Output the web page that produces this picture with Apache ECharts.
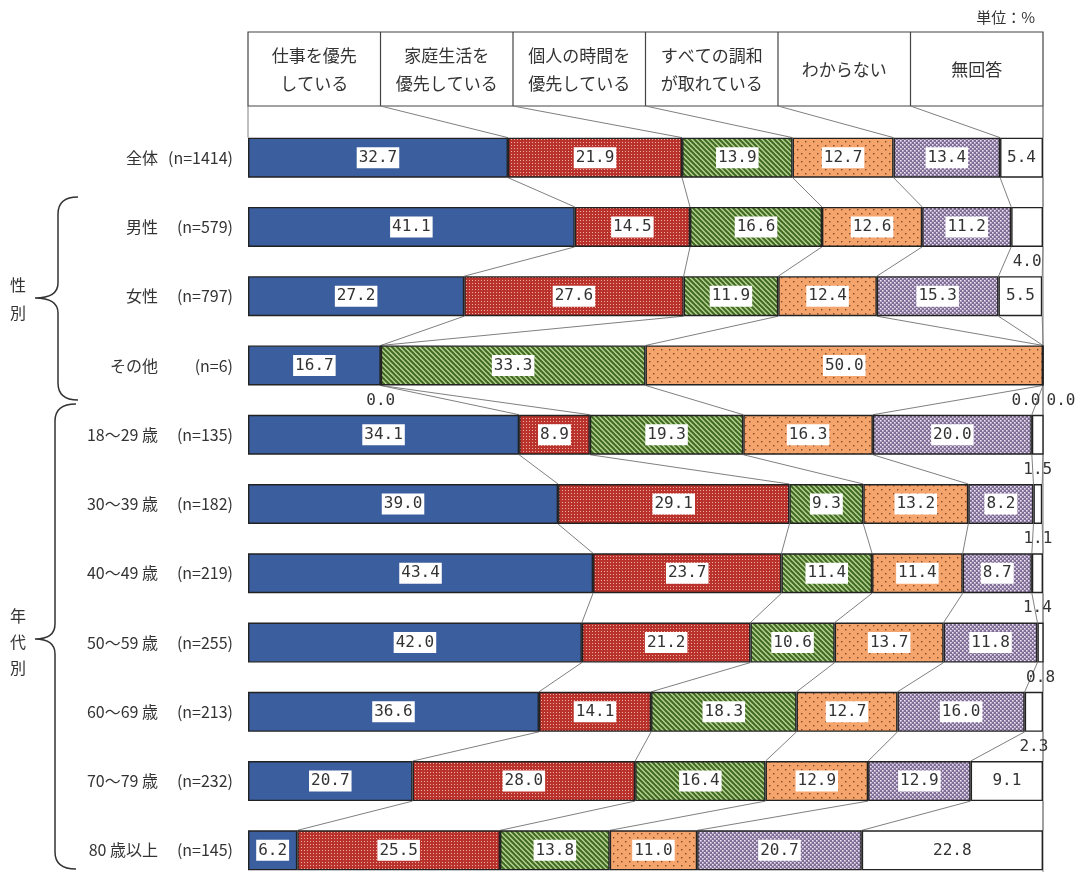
<!DOCTYPE html>
<html><head><meta charset="utf-8">
<script src="https://cdn.jsdelivr.net/npm/echarts@6/dist/echarts.min.js"></script>
<style>html,body{margin:0;padding:0;background:#fff}#c{width:1077px;height:872px}</style>
</head><body><div id="c"></div>
<script>
// ---------- data ----------
const categories = ['全体','男性','女性','その他','18～29 歳','30～39 歳','40～49 歳','50～59 歳','60～69 歳','70～79 歳','80 歳以上'];
const sampleSizes = ['(n=1414)','(n=579)','(n=797)','(n=6)','(n=135)','(n=182)','(n=219)','(n=255)','(n=213)','(n=232)','(n=145)'];
const seriesNames = ['仕事を優先している','家庭生活を優先している','個人の時間を優先している','すべての調和が取れている','わからない','無回答'];
const headerLines = [['仕事を優先','している'],['家庭生活を','優先している'],['個人の時間を','優先している'],['すべての調和','が取れている'],['わからない'],['無回答']];
const work     = [32.7, 41.1, 27.2, 16.7, 34.1, 39.0, 43.4, 42.0, 36.6, 20.7, 6.2];
const family   = [21.9, 14.5, 27.6, 0.0, 8.9, 29.1, 23.7, 21.2, 14.1, 28.0, 25.5];
const personal = [13.9, 16.6, 11.9, 33.3, 19.3, 9.3, 11.4, 10.6, 18.3, 16.4, 13.8];
const balance  = [12.7, 12.6, 12.4, 50.0, 16.3, 13.2, 11.4, 13.7, 12.7, 12.9, 11.0];
const unknown  = [13.4, 11.2, 15.3, 0.0, 20.0, 8.2, 8.7, 11.8, 16.0, 12.9, 20.7];
const noAnswer = [5.4, 4.0, 5.5, 0.0, 1.5, 1.1, 1.4, 0.8, 2.3, 9.1, 22.8];
const unitLabel = '単位：%';
const groupLabels = ['性\n別', '年\n代\n別'];

// ---------- layout / style ----------
const GRID_LEFT = 248, GRID_RIGHT = 34, GRID_TOP = 123, GRID_H = 762;
const BAR_W = 40, HEADER_TOP = 32, HEADER_BOTTOM = 106;
const CJK = '"Noto Sans CJK JP", "Noto Sans", sans-serif';
const MONO = '"DejaVu Sans Mono", "Liberation Mono", monospace';

function pat(w, h, draw) {
  const c = document.createElement('canvas'); c.width = w; c.height = h;
  draw(c.getContext('2d')); return { image: c, repeat: 'repeat' };
}
const fills = [
  '#3b5e9e',
  pat(3, 3, g => { g.fillStyle = '#b9322b'; g.fillRect(0,0,3,3); g.fillStyle = '#eab0a8'; g.fillRect(1,1,1,1); }),
  pat(5, 5, g => { g.fillStyle = '#b4cf90'; g.fillRect(0,0,5,5); g.strokeStyle = '#3f6a22'; g.lineWidth = 2;
      [-5,0,5].forEach(c => { g.beginPath(); g.moveTo(c-1,-1); g.lineTo(c+6,6); g.stroke(); }); }),
  pat(8, 8, g => { g.fillStyle = '#f5a46c'; g.fillRect(0,0,8,8); g.fillStyle = '#7a4a30';
      g.fillRect(1,1,1.4,1.4); g.fillRect(5,5,1.4,1.4); }),
  pat(4, 4, g => { g.fillStyle = '#806d96'; g.fillRect(0,0,4,4); g.fillStyle = '#ebe4f3';
      g.fillRect(0,0,1.6,1.6); g.fillRect(2,2,1.6,1.6); }),
  '#ffffff'
];
const allSeries = [work, family, personal, balance, unknown, noAnswer];
const cum = categories.map((_, i) => {
  const out = [0]; let s = 0;
  allSeries.forEach(a => { s += a[i]; out.push(s); });
  return out;
});

function smallLabel(sIdx, v) {
  let dx = 0;
  if (v === 0 && sIdx === 4) dx = -17;
  if (v === 0 && sIdx === 5) dx = 18;
  return { position: 'bottom', distance: 7, offset: [dx, 0], backgroundColor: 'transparent', padding: 0 };
}
function makeData(arr, sIdx) {
  return arr.map(v => v < 5 ? { value: v, label: smallLabel(sIdx, v) } : { value: v });
}

const barSeries = allSeries.map((arr, s) => ({
  name: seriesNames[s], type: 'bar', stack: 'total', barWidth: BAR_W, z: 3,
  data: makeData(arr, s),
  itemStyle: { color: fills[s], borderColor: '#222', borderWidth: 1.4 },
  label: {
    show: true, position: 'inside', formatter: p => p.value.toFixed(1),
    backgroundColor: '#fff', padding: [3, 2, 2, 2], color: '#333',
    fontFamily: MONO, fontSize: 16
  }
}));

function brace(xEnd, xV, xTip, yTop, yMid, yBot) {
  return 'M' + xEnd + ',' + yTop + ' Q' + xV + ',' + yTop + ' ' + xV + ',' + (yTop + 17) +
    ' L' + xV + ',' + (yMid - 15) + ' Q' + xV + ',' + yMid + ' ' + xTip + ',' + yMid +
    ' Q' + xV + ',' + yMid + ' ' + xV + ',' + (yMid + 15) +
    ' L' + xV + ',' + (yBot - 17) + ' Q' + xV + ',' + yBot + ' ' + xEnd + ',' + yBot;
}

function renderConn(params, api) {
  const i = api.value(1);
  const children = [];
  const half = BAR_W / 2;
  const x0 = api.coord([0, i])[0], x100 = api.coord([100, i])[0];
  const yc = api.coord([0, i])[1];
  const yTop = yc - half;
  const line = (x1, y1, x2, y2) => children.push({ type: 'line', shape: { x1, y1, x2, y2 },
      style: { stroke: '#808080', lineWidth: 1 } });
  if (i === 0) {
    const colW = (x100 - x0) / 6;
    children.push({ type: 'rect', shape: { x: x0, y: HEADER_TOP, width: x100 - x0, height: HEADER_BOTTOM - HEADER_TOP },
      style: { fill: '#fff', stroke: '#444', lineWidth: 1.2 } });
    for (let k = 1; k < 6; k++) children.push({ type: 'line',
      shape: { x1: x0 + k * colW, y1: HEADER_TOP, x2: x0 + k * colW, y2: HEADER_BOTTOM },
      style: { stroke: '#444', lineWidth: 1.2 } });
    headerLines.forEach((lines, k) => children.push({ type: 'text',
      style: { text: lines.join('\n'), x: x0 + (k + 0.5) * colW, y: (HEADER_TOP + HEADER_BOTTOM) / 2 + 1,
        align: 'center', verticalAlign: 'middle', fontSize: 17, lineHeight: 28, fontFamily: CJK, fill: '#333' } }));
    for (let k = 0; k <= 6; k++) line(x0 + k * colW, HEADER_BOTTOM, api.coord([Math.min(cum[0][k],100), i])[0], yTop);
    line(x100, HEADER_BOTTOM, x100, 872);
    children.push({ type: 'path', shape: { pathData: brace(78, 58, 35, 197, 298, 400) },
      style: { fill: 'none', stroke: '#333', lineWidth: 1.5 } });
    children.push({ type: 'path', shape: { pathData: brace(76, 55, 35, 404, 639, 869) },
      style: { fill: 'none', stroke: '#333', lineWidth: 1.5 } });
  } else {
    const yPrevBottom = api.coord([0, i - 1])[1] + half;
    for (let k = 1; k <= 6; k++)
      line(api.coord([Math.min(cum[i - 1][k],100), i])[0], yPrevBottom, api.coord([Math.min(cum[i][k],100), i])[0], yTop);
  }
  return { type: 'group', children };
}

const chart = echarts.init(document.getElementById('c'), null, { renderer: 'canvas' });
chart.setOption({
  backgroundColor: '#fff',
  animation: false,
  grid: { left: GRID_LEFT, right: GRID_RIGHT, top: GRID_TOP, height: GRID_H, containLabel: false, outerBoundsMode: 'none' },
  xAxis: { type: 'value', min: 0, max: 100, show: false },
  yAxis: { type: 'category', data: categories, inverse: true,
    axisLine: { show: false }, axisTick: { show: false }, splitLine: { show: false },
    axisLabel: { margin: 15, fontSize: 16, color: '#333', fontFamily: CJK,
      formatter: (v, idx) => '{a|' + v + '}{b|' + sampleSizes[idx] + '}',
      rich: { a: { fontSize: 16, color: '#333', fontFamily: CJK },
              b: { fontSize: 16, color: '#333', fontFamily: CJK, width: 75, align: 'right' } } } },
  series: [
    { type: 'custom', z: 1, clip: false, renderItem: renderConn, silent: true,
      encode: { x: 0, y: 1 }, data: categories.map((c, i) => [0, i]) },
    ...barSeries
  ],
  graphic: [
    { type: 'text', right: 42, top: 10, style: { text: unitLabel, fontSize: 15, fontFamily: CJK, fill: '#333' } },
    { type: 'text', left: 10, top: 271, style: { text: groupLabels[0], fontSize: 16, lineHeight: 28, fontFamily: CJK, fill: '#333' } },
    { type: 'text', left: 10, top: 603, style: { text: groupLabels[1], fontSize: 16, lineHeight: 26, fontFamily: CJK, fill: '#333' } }
  ]
});
</script></body></html>
